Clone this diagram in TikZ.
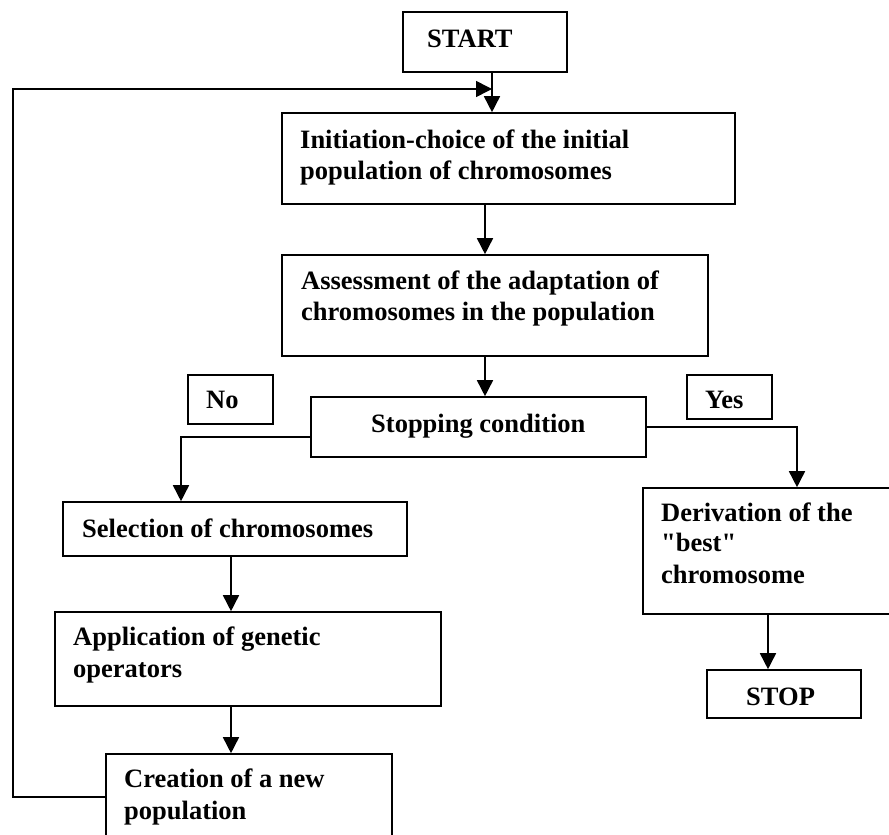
\documentclass[tikz,border=0pt]{standalone}
\usepackage{fontspec}
\setmainfont{Liberation Serif}
\usetikzlibrary{arrows.meta}
\newcommand\sqq{\XeTeXglyph\XeTeXcharglyph"22\relax}
\tikzset{
  box/.style={draw, line width=1.6pt, inner sep=0pt, rectangle},
  txt/.style={anchor=base west, inner sep=0pt, font=\bfseries\fontsize{26.5}{31}\selectfont},
  arr/.style={line width=1.6pt, -{Triangle[length=16pt,width=16pt]}},
  ln/.style={line width=1.6pt}
}
\begin{document}
\begin{tikzpicture}[x=1pt,y=-1pt]
\useasboundingbox (0,0) rectangle (889,835);
% boxes
\node[box, minimum width=164pt, minimum height=60pt] (start) at (485,42) {};
\node[box, minimum width=453pt, minimum height=91pt] (init) at (508.5,158.5) {};
\node[box, minimum width=426pt, minimum height=101pt] (assess) at (495,305.5) {};
\node[box, minimum width=335pt, minimum height=60pt] (stopc) at (478.5,427) {};
\node[box, minimum width=85pt, minimum height=49pt] (no) at (230.5,399.5) {};
\node[box, minimum width=85pt, minimum height=44pt] (yes) at (729.5,397) {};
\node[box, minimum width=344pt, minimum height=54pt] (sel) at (235,529) {};
\node[box, minimum width=386pt, minimum height=94pt] (app) at (248,659) {};
\node[box, minimum width=286pt, minimum height=106pt] (creat) at (249,807) {};
\node[box, minimum width=257pt, minimum height=126pt] (deriv) at (771.5,551) {};
\node[box, minimum width=154pt, minimum height=48pt] (stop) at (784,694) {};
% texts
\node[txt] (tstart) at (427,47) {START};
\node[txt] (tinit1) at (300,148) {Initiation-choice of the initial};
\node[txt] (tinit2) at (300,179) {population of chromosomes};
\node[txt] (tas1) at (301,289) {Assessment of the adaptation of};
\node[txt] (tas2) at (301,320) {chromosomes in the population};
\node[txt] (tstc) at (371,432) {Stopping condition};
\node[txt] (tno) at (206,408) {No};
\node[txt] (tyes) at (705,408) {Yes};
\node[txt] (tsel) at (82,537) {Selection of chromosomes};
\node[txt] (tapp1) at (73,645) {Application of genetic};
\node[txt] (tapp2) at (73,677) {operators};
\node[txt] (tcr1) at (124,787) {Creation of a new};
\node[txt] (tcr2) at (124,819) {population};
\node[txt] (tder1) at (661,521) {Derivation of the};
\node[txt] (tder2) at (661,551) {\sqq best\sqq};
\node[txt] (tder3) at (661,583) {chromosome};
\node[txt] (tstop) at (746,705) {STOP};
% helper coordinates
\coordinate (xa) at (492,0);
\coordinate (xb) at (485,0);
\coordinate (xc) at (231,0);
\coordinate (xd) at (768,0);
\coordinate (xyes) at (797,0);
\coordinate (fbl) at (13,797);
\coordinate (fbt) at (13,89);
\coordinate (nol) at (181,437);
% connectors
\draw[arr] (start.south -| xa) -- (init.north -| xa);
\draw[arr] (creat.west |- fbl) -- (fbl) -- (fbt) -- (fbt -| xa);
\draw[arr] (init.south -| xb) -- (assess.north -| xb);
\draw[arr] (assess.south -| xb) -- (stopc.north -| xb);
\draw[arr] (stopc.west |- nol) -- (nol) -- (sel.north -| nol);
\draw[arr] (stopc.east) -| (deriv.north -| xyes);
\draw[arr] (sel.south -| xc) -- (app.north -| xc);
\draw[arr] (app.south -| xc) -- (creat.north -| xc);
\draw[arr] (deriv.south -| xd) -- (stop.north -| xd);
\end{tikzpicture}
\end{document}
